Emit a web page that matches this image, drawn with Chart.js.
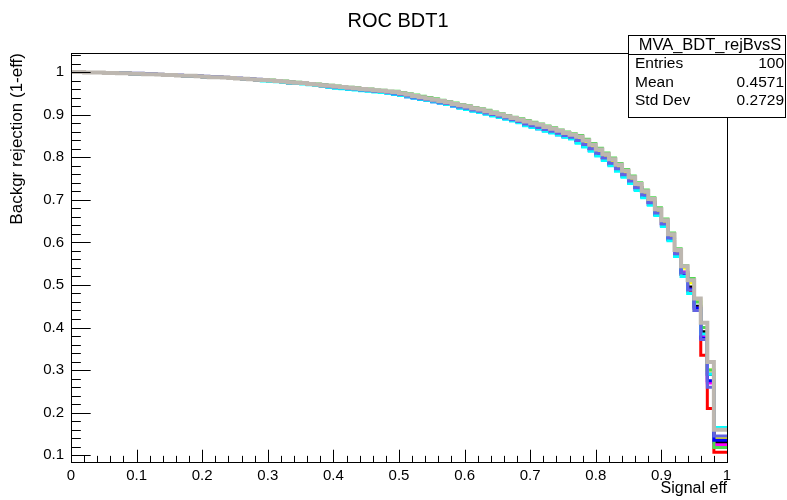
<!DOCTYPE html>
<html><head><meta charset="utf-8">
<script src="https://cdn.jsdelivr.net/npm/chart.js@4.4.0/dist/chart.umd.min.js"></script>
<style>html,body{margin:0;padding:0;background:#fff;}#wrap{width:787px;height:500px;}</style>
</head><body><div id="wrap"><canvas id="c" width="787" height="500"></canvas></div>
<script>
// Histogram definition: 100 bins from 0 to 1 (signal efficiency)
const nBins = 100, xLow = 0, xHigh = 1;
const yLow = 0.0842, yHigh = 1.0447;

const xMajorTicks = [0,0.1,0.2,0.3,0.4,0.5,0.6,0.7,0.8,0.9,1];
const xTickLabels = ["0","0.1","0.2","0.3","0.4","0.5","0.6","0.7","0.8","0.9","1"];
const xMinorTicks = [0.02,0.04,0.06,0.08,0.12,0.14,0.16,0.18,0.22,0.24,0.26,0.28,0.32,0.34,0.36,0.38,0.42,0.44,0.46,0.48,0.52,0.54,0.56,0.58,0.62,0.64,0.66,0.68,0.72,0.74,0.76,0.78,0.82,0.84,0.86,0.88,0.92,0.94,0.96,0.98];
const yMajorTicks = [0.1,0.2,0.3,0.4,0.5,0.6,0.7,0.8,0.9,1];
const yTickLabels = ["0.1","0.2","0.3","0.4","0.5","0.6","0.7","0.8","0.9","1"];
const yMinorTicks = [0.12,0.14,0.16,0.18,0.22,0.24,0.26,0.28,0.32,0.34,0.36,0.38,0.42,0.44,0.46,0.48,0.52,0.54,0.56,0.58,0.62,0.64,0.66,0.68,0.72,0.74,0.76,0.78,0.82,0.84,0.86,0.88,0.92,0.94,0.96,0.98,1.02,1.04];

const seriesNames = ["red","black","magenta","yellow","green","blue","cyan","slate","gray"];
const seriesColors = ["#ff0000","#000000","#ff00ff","#ffff00","#4fd84f","#0000ff","#00ffff","#6262e4","#bdb7b0"];

const rejRed = [
1.000,1.000,1.000,0.999,0.999,0.999,0.998,0.998,0.997,0.997,
0.996,0.996,0.995,0.995,0.994,0.993,0.993,0.992,0.991,0.991,
0.990,0.989,0.988,0.988,0.987,0.986,0.985,0.984,0.983,0.982,
0.981,0.980,0.979,0.978,0.976,0.975,0.974,0.972,0.971,0.969,
0.967,0.965,0.964,0.962,0.961,0.959,0.958,0.956,0.955,0.953,
0.951,0.948,0.945,0.942,0.939,0.936,0.933,0.930,0.927,0.923,
0.919,0.916,0.912,0.909,0.905,0.901,0.897,0.893,0.889,0.885,
0.879,0.875,0.871,0.866,0.862,0.857,0.852,0.848,0.840,0.831,
0.821,0.810,0.799,0.787,0.774,0.760,0.745,0.729,0.712,0.694,
0.670,0.644,0.611,0.574,0.525,0.485,0.440,0.335,0.210,0.107];
const rejBlack = [
1.000,1.000,1.000,0.999,0.999,0.999,0.998,0.998,0.997,0.997,
0.996,0.996,0.995,0.995,0.994,0.993,0.993,0.992,0.991,0.991,
0.990,0.989,0.988,0.988,0.987,0.986,0.985,0.984,0.983,0.982,
0.980,0.979,0.978,0.977,0.975,0.974,0.973,0.971,0.970,0.968,
0.966,0.964,0.963,0.961,0.960,0.958,0.957,0.955,0.954,0.952,
0.950,0.947,0.944,0.941,0.938,0.935,0.932,0.929,0.926,0.922,
0.918,0.915,0.911,0.908,0.904,0.900,0.896,0.892,0.888,0.884,
0.878,0.874,0.870,0.865,0.861,0.856,0.851,0.847,0.840,0.831,
0.821,0.810,0.799,0.787,0.774,0.760,0.745,0.729,0.712,0.694,
0.670,0.644,0.611,0.574,0.530,0.495,0.450,0.390,0.290,0.130];
const rejMagenta = [
1.000,1.000,1.000,0.999,0.999,0.999,0.998,0.998,0.997,0.997,
0.996,0.996,0.995,0.995,0.994,0.993,0.993,0.992,0.991,0.991,
0.990,0.989,0.988,0.988,0.987,0.986,0.985,0.984,0.983,0.982,
0.980,0.979,0.978,0.977,0.975,0.974,0.973,0.971,0.970,0.968,
0.966,0.964,0.963,0.961,0.960,0.958,0.957,0.955,0.954,0.952,
0.950,0.947,0.944,0.941,0.938,0.935,0.932,0.929,0.926,0.922,
0.918,0.915,0.911,0.908,0.904,0.900,0.896,0.892,0.888,0.884,
0.878,0.874,0.870,0.865,0.861,0.856,0.851,0.847,0.839,0.830,
0.820,0.809,0.798,0.786,0.773,0.759,0.744,0.728,0.711,0.693,
0.669,0.643,0.610,0.573,0.530,0.490,0.445,0.380,0.270,0.125];
const rejYellow = [
1.000,1.000,1.000,0.999,0.999,0.999,0.998,0.998,0.997,0.997,
0.996,0.996,0.995,0.995,0.994,0.993,0.993,0.992,0.991,0.991,
0.990,0.989,0.988,0.988,0.987,0.986,0.985,0.984,0.983,0.982,
0.980,0.979,0.978,0.977,0.975,0.974,0.973,0.971,0.970,0.968,
0.967,0.965,0.964,0.962,0.961,0.959,0.958,0.956,0.955,0.953,
0.951,0.948,0.945,0.942,0.939,0.936,0.933,0.930,0.927,0.923,
0.920,0.917,0.913,0.910,0.906,0.902,0.898,0.894,0.890,0.886,
0.881,0.877,0.873,0.868,0.864,0.859,0.854,0.850,0.845,0.836,
0.826,0.815,0.804,0.792,0.779,0.765,0.750,0.734,0.717,0.699,
0.675,0.649,0.616,0.579,0.540,0.505,0.465,0.400,0.300,0.140];
const rejGreen = [
1.000,1.000,1.000,0.999,0.999,0.999,0.998,0.998,0.997,0.997,
0.996,0.996,0.995,0.995,0.994,0.993,0.993,0.992,0.991,0.991,
0.990,0.989,0.988,0.988,0.987,0.986,0.985,0.984,0.983,0.982,
0.982,0.981,0.980,0.979,0.977,0.976,0.975,0.973,0.972,0.970,
0.969,0.967,0.966,0.964,0.963,0.961,0.960,0.958,0.957,0.955,
0.955,0.952,0.949,0.946,0.943,0.940,0.937,0.934,0.931,0.927,
0.924,0.921,0.917,0.914,0.910,0.906,0.902,0.898,0.894,0.890,
0.886,0.882,0.878,0.873,0.869,0.864,0.859,0.855,0.851,0.842,
0.832,0.821,0.810,0.798,0.785,0.771,0.756,0.740,0.723,0.705,
0.681,0.655,0.622,0.585,0.545,0.515,0.460,0.400,0.300,0.118];
const rejBlue = [
1.000,1.000,1.000,0.999,0.999,0.999,0.998,0.998,0.997,0.997,
0.996,0.996,0.995,0.995,0.994,0.993,0.993,0.992,0.991,0.991,
0.990,0.989,0.988,0.988,0.987,0.986,0.985,0.984,0.983,0.982,
0.980,0.979,0.978,0.977,0.975,0.974,0.973,0.971,0.970,0.968,
0.965,0.963,0.962,0.960,0.959,0.957,0.956,0.954,0.953,0.951,
0.948,0.945,0.942,0.939,0.936,0.933,0.930,0.927,0.924,0.920,
0.916,0.913,0.909,0.906,0.902,0.898,0.894,0.890,0.886,0.882,
0.875,0.871,0.867,0.862,0.858,0.853,0.848,0.844,0.835,0.826,
0.816,0.805,0.794,0.782,0.769,0.755,0.740,0.724,0.707,0.689,
0.665,0.639,0.606,0.569,0.525,0.490,0.445,0.375,0.275,0.135];
const rejCyan = [
1.000,1.000,1.000,0.999,0.999,0.999,0.998,0.998,0.997,0.997,
0.996,0.996,0.995,0.995,0.994,0.993,0.993,0.992,0.991,0.991,
0.990,0.989,0.988,0.988,0.987,0.986,0.985,0.984,0.983,0.982,
0.979,0.978,0.977,0.976,0.974,0.973,0.972,0.970,0.969,0.967,
0.964,0.962,0.961,0.959,0.958,0.956,0.955,0.953,0.952,0.950,
0.948,0.945,0.942,0.939,0.936,0.933,0.930,0.927,0.924,0.920,
0.915,0.912,0.908,0.905,0.901,0.897,0.893,0.889,0.885,0.881,
0.874,0.870,0.866,0.861,0.857,0.852,0.847,0.843,0.833,0.824,
0.814,0.803,0.792,0.780,0.767,0.753,0.738,0.722,0.705,0.687,
0.663,0.637,0.604,0.567,0.520,0.480,0.440,0.385,0.290,0.165];
const rejSlate = [
1.000,1.000,1.000,0.999,0.999,0.999,0.998,0.998,0.997,0.997,
0.997,0.997,0.996,0.996,0.995,0.994,0.994,0.993,0.992,0.992,
0.991,0.990,0.989,0.989,0.988,0.987,0.986,0.985,0.984,0.983,
0.981,0.980,0.979,0.978,0.976,0.975,0.974,0.972,0.971,0.969,
0.966,0.964,0.963,0.961,0.960,0.958,0.957,0.955,0.954,0.952,
0.950,0.947,0.944,0.941,0.938,0.935,0.932,0.929,0.926,0.922,
0.918,0.915,0.911,0.908,0.904,0.900,0.896,0.892,0.888,0.884,
0.878,0.874,0.870,0.865,0.861,0.856,0.851,0.847,0.839,0.830,
0.820,0.809,0.798,0.786,0.773,0.759,0.744,0.728,0.711,0.693,
0.669,0.643,0.610,0.573,0.528,0.488,0.440,0.372,0.260,0.145];
const rejGray = [
1.000,1.000,1.000,0.999,0.999,0.999,0.998,0.998,0.997,0.997,
0.996,0.996,0.995,0.995,0.994,0.993,0.993,0.992,0.991,0.991,
0.990,0.989,0.988,0.988,0.987,0.986,0.985,0.984,0.983,0.982,
0.981,0.980,0.979,0.978,0.976,0.975,0.974,0.972,0.971,0.969,
0.968,0.966,0.965,0.963,0.962,0.960,0.959,0.957,0.956,0.954,
0.953,0.950,0.947,0.944,0.941,0.938,0.935,0.932,0.929,0.925,
0.922,0.919,0.915,0.912,0.908,0.904,0.900,0.896,0.892,0.888,
0.884,0.880,0.876,0.871,0.867,0.862,0.857,0.853,0.848,0.839,
0.829,0.818,0.807,0.795,0.782,0.768,0.753,0.737,0.720,0.702,
0.678,0.652,0.619,0.582,0.544,0.511,0.468,0.411,0.319,0.160];

const seriesValues = [rejRed, rejBlack, rejMagenta, rejYellow, rejGreen, rejBlue, rejCyan, rejSlate, rejGray];
const seriesWidths = [3,3,3,3,3,3,3,3,4];

const statsTitle = "MVA_BDT_rejBvsS";
const statsRows = [["Entries","100"],["Mean","0.4571"],["Std Dev","0.2729"]];
const chartTitle = "ROC BDT1";
const xTitle = "Signal eff";
const yTitle = "Backgr rejection (1-eff)";

const FONT = '"Liberation Sans", Arial, Helvetica, sans-serif';

function histPoints(vals){
  const w = (xHigh - xLow) / nBins;
  const pts = vals.map((v,i) => ({x: xLow + i*w, y: v}));
  pts.push({x: xHigh, y: vals[vals.length-1]});
  return pts;
}

const datasets = seriesValues.map((vals, k) => ({
  label: seriesNames[k],
  data: histPoints(vals),
  borderColor: seriesColors[k],
  backgroundColor: seriesColors[k],
  borderWidth: seriesWidths[k],
  stepped: 'after',
  pointRadius: 0,
  fill: false,
  tension: 0,
  order: seriesValues.length - k
}));

const rootDecor = {
  id: 'rootDecor',
  beforeDraw(chart){
    const ctx = chart.ctx;
    ctx.save(); ctx.fillStyle = '#fff'; ctx.fillRect(0,0,chart.width,chart.height); ctx.restore();
  },
  afterDatasetsDraw(chart){
    const ctx = chart.ctx, a = chart.chartArea;
    const xs = chart.scales.x, ys = chart.scales.y;
    ctx.save();
    ctx.strokeStyle = '#000'; ctx.lineWidth = 1;
    ctx.strokeRect(Math.round(a.left)+0.5, Math.round(a.top)+0.5, Math.round(a.right-a.left), Math.round(a.bottom-a.top));
    const H = a.bottom - a.top, W = a.right - a.left;
    const xMaj = 0.03*H, xMin = 0.015*H, yMaj = 0.03*W, yMin = 0.015*W;
    ctx.beginPath();
    xMajorTicks.forEach(v => { const p = Math.round(xs.getPixelForValue(v))+0.5; ctx.moveTo(p, a.bottom); ctx.lineTo(p, a.bottom - xMaj); });
    xMinorTicks.forEach(v => { const p = Math.round(xs.getPixelForValue(v))+0.5; ctx.moveTo(p, a.bottom); ctx.lineTo(p, a.bottom - xMin); });
    yMajorTicks.forEach(v => { const p = Math.round(ys.getPixelForValue(v))+0.5; ctx.moveTo(a.left, p); ctx.lineTo(a.left + yMaj, p); });
    yMinorTicks.forEach(v => { const p = Math.round(ys.getPixelForValue(v))+0.5; ctx.moveTo(a.left, p); ctx.lineTo(a.left + yMin, p); });
    ctx.stroke();
    ctx.restore();
  },
  afterDraw(chart){
    const ctx = chart.ctx, a = chart.chartArea;
    ctx.save();
    ctx.fillStyle = '#000';
    ctx.font = '20px ' + FONT; ctx.textAlign = 'center'; ctx.textBaseline = 'middle';
    ctx.fillText(chartTitle, 398, 21);
    ctx.font = '16px ' + FONT; ctx.textAlign = 'right'; ctx.textBaseline = 'middle';
    ctx.fillText(xTitle, a.right, 489);
    ctx.font = '17px ' + FONT;
    ctx.save(); ctx.translate(17, a.top); ctx.rotate(-Math.PI/2);
    ctx.textAlign = 'right'; ctx.textBaseline = 'middle';
    ctx.fillText(yTitle, 0, 0); ctx.restore();
    const bx = 628.5, by = 35.5, bw = 157, bh = 82, sep = 54.5;
    ctx.fillStyle = '#fff'; ctx.fillRect(bx, by, bw, bh);
    ctx.strokeStyle = '#000'; ctx.lineWidth = 1; ctx.strokeRect(bx, by, bw, bh);
    ctx.beginPath(); ctx.moveTo(bx, sep); ctx.lineTo(bx+bw, sep); ctx.stroke();
    ctx.fillStyle = '#000';
    ctx.font = '16.5px ' + FONT; ctx.textAlign = 'center'; ctx.textBaseline = 'middle';
    ctx.fillText(statsTitle, bx + bw/2 + 3, 45);
    ctx.font = '15.5px ' + FONT;
    statsRows.forEach((r, i) => {
      const yy = 64 + i*18.3;
      ctx.textAlign = 'left'; ctx.fillText(r[0], 635, yy);
      ctx.textAlign = 'right'; ctx.fillText(r[1], 784, yy);
    });
    ctx.restore();
  }
};

new Chart(document.getElementById('c'), {
  type: 'line',
  data: { datasets },
  plugins: [rootDecor],
  options: {
    responsive: false, animation: false, devicePixelRatio: 1,
    layout: { padding: { left: 0, top: 53, right: 60, bottom: 0 } },
    plugins: { legend: { display: false }, tooltip: { enabled: false }, title: { display: false } },
    elements: { line: { borderCapStyle: 'butt', borderJoinStyle: 'miter' } },
    scales: {
      x: {
        type: 'linear', min: xLow, max: xHigh,
        grid: { display: false, drawTicks: false }, border: { display: false },
        afterFit: s => { s.height = 38; },
        afterBuildTicks: s => { s.ticks = xMajorTicks.map(v => ({ value: v })); },
        ticks: { autoSkip: false, maxRotation: 0, padding: 5, color: '#000',
          font: { family: FONT, size: 15 },
          callback: (v) => { const i = xMajorTicks.indexOf(v); return i >= 0 ? xTickLabels[i] : ''; } }
      },
      y: {
        type: 'linear', min: yLow, max: yHigh,
        grid: { display: false, drawTicks: false }, border: { display: false },
        afterFit: s => { s.width = 71; },
        afterBuildTicks: s => { s.ticks = yMajorTicks.map(v => ({ value: v })); },
        ticks: { autoSkip: false, padding: 7, color: '#000',
          font: { family: FONT, size: 15 },
          callback: (v) => { const i = yMajorTicks.indexOf(v); return i >= 0 ? yTickLabels[i] : ''; } }
      }
    }
  }
});
</script></body></html>
